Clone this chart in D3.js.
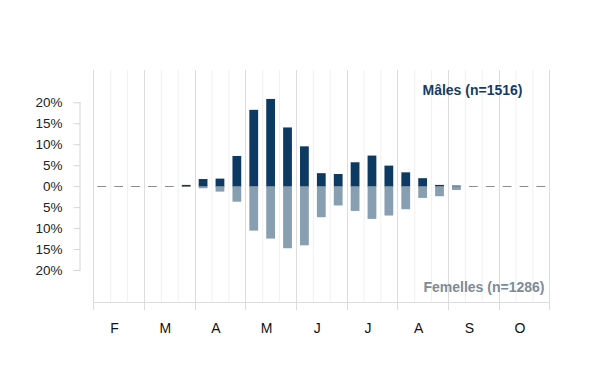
<!DOCTYPE html>
<html><head><meta charset="utf-8">
<script src="https://cdn.jsdelivr.net/npm/d3@7"></script>
<style>
html,body{margin:0;padding:0;background:#fff;}
svg{display:block;font-family:"Liberation Sans",Arial,sans-serif;}
</style></head>
<body><svg id="c" width="600" height="390"></svg>
<script>
const months = ["F","M","A","M","J","J","A","S","O"];
const decades = ["1","2","3"];
const males   = [0,0,0, 0,0,0.3, 1.7,1.8,7.2, 18.2,20.8,14.0, 9.5,3.1,2.9, 5.7,7.3,4.9, 3.3,1.9,0.3, 0.15,0,0, 0,0,0];
const females = [0,0,0, 0,0,0, 0.5,1.3,3.7, 10.6,12.5,14.8, 14.1,7.4,4.6, 5.9,7.8,7.0, 5.5,2.8,2.4, 0.9,0,0, 0,0,0];
const yTicks = [-20,-15,-10,-5,0,5,10,15,20];
const maleLabel = "Mâles (n=1516)";
const femaleLabel = "Femelles (n=1286)";

const svg = d3.select("#c");
const L = 93.3, R = 549.3, T = 70, B = 301.5;
const monthIdx = d3.range(months.length);
const xm = d3.scaleBand().domain(monthIdx).range([L, R]).padding(0);
const xd = d3.scaleBand().domain(decades).range([0, xm.bandwidth()]).padding(0);
const y = d3.scaleLinear().domain([-27.5, 27.7]).range([B, T]);

const bars = males.map((m, i) => ({m, f: females[i], mi: Math.floor(i/3), d: decades[i%3]}));
const bx = d => xm(d.mi) + xd(d.d);
const bw = xd.bandwidth() * 0.52;
const off = (xd.bandwidth() - bw) / 2;

// minor gridlines
const g = svg.append("g");
bars.forEach(d => {
  if (d.d !== "1") {
    g.append("line").attr("x1", bx(d)+0.5).attr("x2", bx(d)+0.5)
      .attr("y1", T).attr("y2", B).attr("stroke", "#f0f0f0").attr("stroke-width", 1);
  }
});
// major gridlines
monthIdx.concat([months.length]).forEach(i => {
  const x = i < months.length ? xm(i) : R;
  g.append("line").attr("x1", Math.round(x)+0.5).attr("x2", Math.round(x)+0.5)
    .attr("y1", T).attr("y2", 310).attr("stroke", "#dcdcdc").attr("stroke-width", 1);
});
// bottom line
g.append("line").attr("x1", L).attr("x2", R).attr("y1", Math.round(B)+0.5).attr("y2", Math.round(B)+0.5)
  .attr("stroke", "#dcdcdc");

// y axis
const yAxis = d3.axisLeft(y).tickValues(yTicks).tickSize(7).tickPadding(11)
  .tickFormat(v => Math.abs(v) + "%");
const ya = svg.append("g").attr("transform", "translate(80.5,0)").call(yAxis);
ya.select(".domain").attr("stroke", "#d6d6d6").attr("d", `M-0.5,${y(20)}V${y(-20)}`);
ya.selectAll(".tick line").attr("stroke", "#d6d6d6");
ya.selectAll(".tick text").attr("fill", "#222").attr("font-size", "13.5px")
  .attr("font-family", "'Liberation Sans',Arial,sans-serif");

// zero dashes
svg.append("g").selectAll("line").data(bars).join("line")
  .attr("x1", d => bx(d)+off).attr("x2", d => bx(d)+off+bw)
  .attr("y1", Math.round(y(0))+0.5).attr("y2", Math.round(y(0))+0.5)
  .attr("stroke", "#8c8c8c").attr("stroke-width", 1);

// female bars
svg.append("g").selectAll("rect").data(bars.filter(d => d.f > 0)).join("rect")
  .attr("x", d => bx(d)+off).attr("width", bw)
  .attr("y", y(0)).attr("height", d => y(-d.f) - y(0))
  .attr("fill", "#879fb0");
// male bars
svg.append("g").selectAll("rect").data(bars.filter(d => d.m > 0)).join("rect")
  .attr("x", d => bx(d)+off).attr("width", bw)
  .attr("y", d => y(d.m)).attr("height", d => y(0) - y(d.m))
  .attr("fill", "#0d3a62");

// month labels
svg.append("g").selectAll("text").data(monthIdx).join("text")
  .attr("x", i => xm(i) + xm.bandwidth()/2 - 4).attr("y", 333)
  .attr("text-anchor", "middle").attr("font-size", "14px").attr("fill", "#111")
  .text(i => months[i]);

// series labels
svg.append("text").attr("x", 522.5).attr("y", 94.5).attr("text-anchor", "end")
  .attr("font-size", "14px").attr("font-weight", "bold").attr("fill", "#163c62").text(maleLabel);
svg.append("text").attr("x", 544.5).attr("y", 291.8).attr("text-anchor", "end")
  .attr("font-size", "14px").attr("font-weight", "bold").attr("fill", "#7c8b9a").text(femaleLabel);
</script></body></html>
